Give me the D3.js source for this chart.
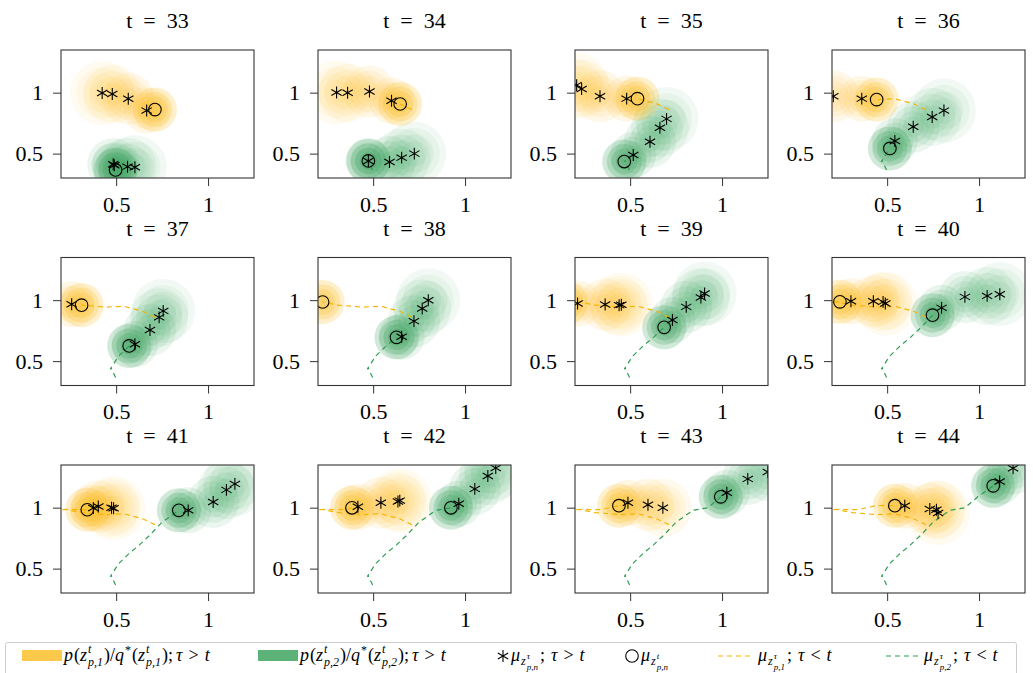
<!DOCTYPE html>
<html>
<head>
<meta charset="utf-8">
<script src="https://cdn.jsdelivr.net/npm/d3@7"></script>
<style>
  body { margin: 0; background: #fff; }
  svg text { font-family: 'Liberation Serif', 'DejaVu Serif', serif; }
</style>
</head>
<body>
<div id="chart"></div>
<script>
const times = [33, 34, 35, 36, 37, 38, 39, 40, 41, 42, 43, 44];
const xDomain = [0.2, 1.25];
const yDomain = [0.3, 1.35];
const xTicks = [0.5, 1];
const yTicks = [0.5, 1];

// mean at tau = t (open circle), one per time step; earlier ones form the dashed track
const trackYellow = [
  [0.711, 0.861], [0.647, 0.907], [0.540, 0.951], [0.443, 0.943], [0.312, 0.959], [0.225, 0.985],
  [0.150, 0.980], [0.243, 0.986], [0.343, 0.983], [0.385, 0.999], [0.439, 1.016], [0.542, 1.016]
];
const trackGreen = [
  [0.497, 0.366], [0.474, 0.440], [0.468, 0.435], [0.515, 0.543], [0.571, 0.625], [0.627, 0.695],
  [0.685, 0.777], [0.747, 0.877], [0.841, 0.978], [0.923, 0.999], [0.993, 1.089], [1.077, 1.179]
];

// predicted means for tau > t (asterisks), nearest first
const starsYellow = [
  [[0.666, 0.853], [0.566, 0.950], [0.479, 0.989], [0.424, 0.997]],
  [[0.600, 0.934], [0.480, 1.010], [0.361, 1.000], [0.301, 1.002]],
  [[0.481, 0.951], [0.336, 0.970], [0.236, 1.030], [0.209, 1.062]],
  [[0.362, 0.951], [0.207, 0.970]],
  [[0.258, 0.967]],
  [],
  [[0.214, 0.973], [0.364, 0.964], [0.440, 0.959], [0.452, 0.963]],
  [[0.303, 0.991], [0.425, 0.991], [0.478, 0.986], [0.490, 0.972]],
  [[0.376, 0.997], [0.403, 1.010], [0.475, 1.000], [0.486, 0.995]],
  [[0.417, 1.008], [0.542, 1.040], [0.635, 1.050], [0.645, 1.058]],
  [[0.488, 1.040], [0.597, 1.024], [0.678, 0.999]],
  [[0.596, 1.016], [0.732, 0.989], [0.768, 0.983], [0.777, 0.956]]
];
const starsGreen = [
  [[0.490, 0.405], [0.484, 0.413], [0.562, 0.393], [0.602, 0.388]],
  [[0.474, 0.440], [0.589, 0.431], [0.655, 0.467], [0.724, 0.500]],
  [[0.517, 0.489], [0.608, 0.598], [0.662, 0.712], [0.698, 0.785]],
  [[0.542, 0.603], [0.642, 0.720], [0.745, 0.801], [0.809, 0.853]],
  [[0.602, 0.638], [0.684, 0.755], [0.734, 0.859], [0.756, 0.912]],
  [[0.655, 0.700], [0.722, 0.828], [0.767, 0.932], [0.800, 0.999]],
  [[0.730, 0.837], [0.805, 0.945], [0.885, 1.022], [0.905, 1.054]],
  [[0.796, 0.937], [0.923, 1.027], [1.044, 1.035], [1.113, 1.049]],
  [[0.892, 0.978], [1.028, 1.046], [1.100, 1.146], [1.146, 1.195]],
  [[0.966, 1.032], [1.053, 1.154], [1.124, 1.260], [1.167, 1.325]],
  [[1.026, 1.122], [1.140, 1.236], [1.249, 1.293]],
  [[1.112, 1.214], [1.185, 1.323]]
];

const YEL = '#fbbf2a', GRN = '#3fa45f';
const YEL_LINE = '#f5b400', GRN_LINE = '#2e9e50';
const FONT = "'Liberation Serif', 'DejaVu Serif', serif";

const W = 1033, H = 673;
const pw = 193, ph = 128;
const colStep = 257, rowStep = 207.5;
const left0 = 61, top0 = 50;

const svg = d3.select('#chart').append('svg')
  .attr('width', W).attr('height', H)
  .style('display', 'block');

const x = d3.scaleLinear().domain(xDomain).range([0, pw]);
const y = d3.scaleLinear().domain(yDomain).range([ph, 0]);
const line = d3.line().x(d => x(d[0])).y(d => y(d[1]));
const star = d3.symbol(d3.symbolAsterisk, 100);

function blobs(g, color, centre, stars) {
  // farthest prediction first, so the current density sits on top
  stars.slice().reverse().forEach((p, j) => {
    const k = stars.length - 1 - j;
    const r = 23 + 3 * k;
    [1, 0.8, 0.6, 0.4].forEach(f => {
      g.append('circle')
        .attr('cx', x(p[0])).attr('cy', y(p[1])).attr('r', r * f)
        .attr('fill', color).attr('fill-opacity', 0.12 - 0.018 * k);
    });
  });
  [22, 17.5, 13, 8.5].forEach(r => {
    g.append('circle')
      .attr('cx', x(centre[0])).attr('cy', y(centre[1])).attr('r', r)
      .attr('fill', color).attr('fill-opacity', 0.24);
  });
}

times.forEach((t, i) => {
  const col = i % 4, row = Math.floor(i / 4);
  const g = svg.append('g')
    .attr('transform', `translate(${left0 + col * colStep},${top0 + row * rowStep})`);

  g.append('clipPath').attr('id', `clip${i}`)
    .append('rect').attr('width', pw).attr('height', ph);

  const inner = g.append('g').attr('clip-path', `url(#clip${i})`);
  blobs(inner, GRN, trackGreen[i], starsGreen[i]);
  blobs(inner, YEL, trackYellow[i], starsYellow[i]);

  inner.append('path').datum(trackYellow.slice(0, i + 1))
    .attr('d', line).attr('fill', 'none')
    .attr('stroke', YEL_LINE).attr('stroke-width', 1.2).attr('stroke-dasharray', '5,4');
  inner.append('path').datum(trackGreen.slice(0, i + 1))
    .attr('d', line).attr('fill', 'none')
    .attr('stroke', GRN_LINE).attr('stroke-width', 1.2).attr('stroke-dasharray', '5,4');

  starsYellow[i].concat(starsGreen[i]).forEach(p => {
    inner.append('path').attr('d', star)
      .attr('transform', `translate(${x(p[0])},${y(p[1])})`)
      .attr('fill', 'none').attr('stroke', '#000').attr('stroke-width', 1.1);
  });
  [trackYellow[i], trackGreen[i]].forEach(p => {
    inner.append('circle')
      .attr('cx', x(p[0])).attr('cy', y(p[1])).attr('r', 6.3)
      .attr('fill', 'none').attr('stroke', '#000').attr('stroke-width', 1.1);
  });

  // Axes
  g.append('g')
    .attr('transform', `translate(0,${ph})`)
    .call(d3.axisBottom(x).tickValues(xTicks).tickSize(8).tickPadding(10).tickFormat(d3.format('')))
    .call(a => a.attr('font-family', FONT).attr('font-size', 22))
    .call(a => a.select('.domain').remove())
    .call(a => a.selectAll('line').attr('stroke', '#333'))
    .call(a => a.selectAll('text').attr('fill', '#000'));

  g.append('g')
    .call(d3.axisLeft(y).tickValues(yTicks).tickSize(8).tickPadding(10).tickFormat(d3.format('')))
    .call(a => a.attr('font-family', FONT).attr('font-size', 22))
    .call(a => a.select('.domain').remove())
    .call(a => a.selectAll('line').attr('stroke', '#333'))
    .call(a => a.selectAll('text').attr('fill', '#000'));

  g.append('rect').attr('width', pw).attr('height', ph)
    .attr('fill', 'none').attr('stroke', '#333').attr('stroke-width', 1.1);

  g.append('text')
    .attr('x', pw / 2).attr('y', -22)
    .attr('text-anchor', 'middle').attr('font-size', 22)
    .attr('font-family', FONT)
    .text(`t\u2002=\u2002${t}`);
});

// Legend
const leg = svg.append('g').attr('font-family', FONT);
leg.append('rect').attr('x', 5.5).attr('y', 642.5).attr('width', 1011).attr('height', 40)
  .attr('fill', '#fff').attr('stroke', '#ccc').attr('rx', 2);

const legY = 661;
function mathText(x0, items) {
  let cx = x0;
  const put = (s, px) => {
    const el = leg.append('text')
      .attr('x', px).attr('y', legY + (s.dy || 0))
      .attr('font-size', s.size || 18)
      .attr('font-style', s.it ? 'italic' : 'normal')
      .attr('fill', '#000')
      .text(s.s);
    return el.node().getComputedTextLength() + (s.pad || 0);
  };
  items.forEach(it => {
    cx += it.dx || 0;
    if (it.stack) {
      cx += d3.max(it.stack, s => put(s, cx));
    } else {
      cx += put(it, cx);
    }
  });
}
const sc = (a, b) => ({ stack: [{ s: a, it: 1, size: 12, dy: -8, pad: 1 }, { s: b, it: 1, size: 12, dy: 5, pad: 1 }] });
const ssc = (a, b) => ({ stack: [{ s: a, it: 1, size: 9, dy: -2, pad: 1 }, { s: b, it: 1, size: 9, dy: 9, pad: 1 }] });

function densityLabel(n) {
  return [
    { s: 'p', it: 1, pad: 1 }, { s: '(' }, { s: 'z', it: 1, pad: 1 }, sc('t', `p,${n}`), { s: ')/' },
    { s: 'q', it: 1, pad: 1 }, { s: '*', size: 12, dy: -7, pad: 1 }, { s: '(' }, { s: 'z', it: 1, pad: 1 },
    sc('t', `p,${n}`), { s: ');' }, { s: 'τ', it: 1, dx: 3 }, { s: '>', dx: 6 }, { s: 't', it: 1, dx: 6 }
  ];
}
function meanLabel(sup, sub, rel) {
  const out = [{ s: 'μ', it: 1, pad: 1 }, { s: 'z', it: 1, size: 12, dy: 4, pad: 1 }, ssc(sup, sub)];
  if (rel) out.push({ s: ';', dx: 1 }, { s: 'τ', it: 1, dx: 6 }, { s: rel, dx: 6 }, { s: 't', it: 1, dx: 6 });
  return out;
}

leg.append('rect').attr('x', 22).attr('y', 650).attr('width', 40).attr('height', 11)
  .attr('fill', YEL).attr('fill-opacity', 0.85);
mathText(64, densityLabel(1));

leg.append('rect').attr('x', 258).attr('y', 650).attr('width', 40).attr('height', 11)
  .attr('fill', GRN).attr('fill-opacity', 0.85);
mathText(300, densityLabel(2));

leg.append('path').attr('d', star).attr('transform', 'translate(503,656)')
  .attr('fill', 'none').attr('stroke', '#000').attr('stroke-width', 1.1);
mathText(511, meanLabel('τ', 'p,n', '>'));

leg.append('circle').attr('cx', 632).attr('cy', 656).attr('r', 6.3)
  .attr('fill', 'none').attr('stroke', '#000').attr('stroke-width', 1.1);
mathText(641, meanLabel('t', 'p,n', null));

leg.append('line').attr('x1', 718).attr('x2', 750).attr('y1', 656).attr('y2', 656)
  .attr('stroke', YEL_LINE).attr('stroke-width', 1.2).attr('stroke-dasharray', '5,4');
mathText(758, meanLabel('τ', 'p,1', '<'));

leg.append('line').attr('x1', 886).attr('x2', 918).attr('y1', 656).attr('y2', 656)
  .attr('stroke', GRN_LINE).attr('stroke-width', 1.2).attr('stroke-dasharray', '5,4');
mathText(924, meanLabel('τ', 'p,2', '<'));
</script>
</body>
</html>
